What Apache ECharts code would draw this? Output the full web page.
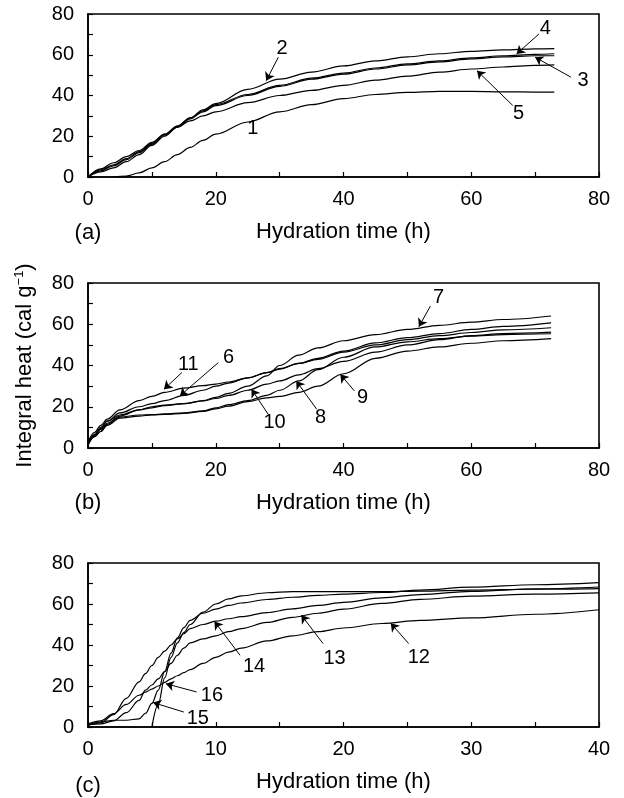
<!DOCTYPE html>
<html>
<head>
<meta charset="utf-8">
<title>Integral heat vs hydration time</title>
<script src="https://cdn.jsdelivr.net/npm/echarts@6/dist/echarts.min.js"></script>
<style>
  html, body { margin: 0; padding: 0; background: #fff; }
  #chart { width: 624px; height: 798px; }
</style>
</head>
<body>
<div id="chart"></div>
<script>
// panel (a): curves 1-5
const timeA = [0, 2, 4, 6, 8, 10, 12, 14, 16, 18, 20, 25, 30, 35, 40, 45, 50, 55, 60, 65, 70, 73];
const heat1 = [null, null, 0, 0.5, 2, 4.5, 7.5, 11, 14.5, 18, 21, 27, 32, 35.5, 38.5, 40.5, 41.5, 42, 42, 41.8, 41.7, 41.7];
const heat2 = [0, 4, 7, 10, 13, 17, 21, 25, 29, 33, 36, 43, 48, 51.5, 54.5, 57, 59, 60.5, 61.7, 62.4, 62.9, 63];
const heat3 = [0, 2.5, 4.5, 7.5, 11, 15.5, 20, 24.5, 28.5, 32, 35, 40, 44.5, 48, 50.5, 53, 55, 56.5, 58, 59, 59.5, 59.5];
const heat4 = [0, 3.5, 6, 9, 12.5, 16.5, 21, 25, 29, 32.5, 35.5, 40.5, 45, 48.5, 51, 53.5, 55.5, 57, 58.5, 59.5, 60.2, 60.5];
const heat5 = [0, 3, 5.5, 8.5, 12, 16, 20.5, 24.5, 27.5, 30, 32, 36.5, 40, 42.5, 45, 47.5, 49.5, 51.5, 53, 54, 54.8, 55];

// panel (b): curves 6-11
const timeB = [0, 1, 2, 3, 5, 8, 10, 12, 15, 18, 20, 22, 25, 28, 30, 33, 36, 40, 45, 50, 55, 60, 65, 72.5];
const heat6 = [2.5, 6, 9.5, 13, 17, 20, 21.5, 23, 25.5, 28, 30, 31.5, 34, 36.5, 38.5, 41, 43, 46.5, 50, 52.5, 54.5, 56, 57.3, 58.3];
const heat7 = [2.5, 6.5, 10, 13, 16, 18.5, 19.5, 20.5, 21.5, 23, 24.5, 26.5, 30, 35, 40, 45, 48.5, 52, 55, 57.5, 59.5, 61, 62.3, 64];
const heat8 = [1.5, 5.5, 8, 11.5, 15, 16, 16.2, 16.5, 17, 18, 19.5, 21, 23, 25.5, 28, 32.5, 38, 44, 49, 51.5, 53, 54.2, 55, 55.4];
const heat9 = [1.5, 5.5, 8, 11, 14.5, 15.5, 16, 16.3, 16.8, 17.8, 19, 20.3, 22.5, 24.3, 25, 27, 30, 36, 43.5, 47, 49, 50.8, 52, 53];
const heat10 = [2, 6, 9, 12, 15.5, 18.5, 20, 20.8, 21.5, 22.8, 24, 25.5, 28, 31, 32.5, 35.5, 38.5, 42, 46.5, 50, 52.5, 54.5, 55.5, 56.2];
const heat11 = [3, 7.5, 11, 14, 18.5, 23, 25, 27, 29, 30.2, 31, 32, 34, 36.5, 38.2, 41, 43.5, 47, 51, 53.5, 55.5, 57.5, 59, 60.7];

// panel (c): curves 12-16
const timeC = [0, 1, 2, 3, 4, 4.5, 5, 5.5, 6, 6.5, 7, 7.5, 8, 9, 10, 11, 12, 14, 16, 18, 20, 23, 26, 30, 35, 40];
const heat12 = [1.5, 3, 6.5, 11, 15.5, 17, 18.5, 20, 21.8, 23.5, 25, 26.5, 28, 31, 34, 36.5, 38.5, 42, 44.5, 46.5, 48.3, 50.5, 52, 53.2, 55, 57.2];
const heat13 = [1, 1.5, 3, 7, 13, 18, 20.5, 23.5, 27, 31, 35, 38.5, 41, 43, 44.5, 46.5, 48, 51, 53.5, 55.5, 57.5, 60.3, 62.3, 63.8, 64.8, 65.4];
const heat14 = [1, 2, 6, 14, 22, 26, 30, 34, 37, 40, 43, 45.5, 48, 50, 51.6, 52.8, 53.8, 55.8, 57.6, 59.3, 60.8, 63, 64.6, 66.2, 67.4, 68.3];
const heat15 = [0.8, 2.5, 3.3, 3.3, 4, 6.6, 11.5, 18, 27, 36, 43.5, 48.5, 52, 55.5, 57.5, 59.3, 60.5, 62.2, 63.3, 64.2, 64.8, 65.6, 66.8, 68.2, 69.4, 70.4];
const heat16 = [null, null, null, null, null, null, 0, 11, 24, 34, 41, 46, 50, 56, 60, 62.5, 64, 65.5, 66, 66, 66, 66, 66.3, 66.8, 67.2, 67.5];

// curve numbers and their arrows, in data units
const notesA = [
  { text: '1', at: [25.8, 24] },
  { text: '2', at: [30.4, 63], from: [29.8, 58.8], to: [27.9, 47.3] },
  { text: '4', at: [71.6, 72.7], from: [70.6, 70.2], to: [67.1, 60.4] },
  { text: '3', at: [77.5, 47.3], from: [75.6, 49], to: [70, 58.8] },
  { text: '5', at: [67.4, 31], from: [66.5, 35.1], to: [60.9, 52.2] }
];
const notesB = [
  { text: '7', at: [54.9, 72.8], from: [53.6, 68.8], to: [51.8, 58.8] },
  { text: '11', at: [15.7, 40.6], from: [14.7, 36.6], to: [11.9, 28.5] },
  { text: '6', at: [22, 43.8], from: [20.4, 41.4], to: [14.4, 25.3] },
  { text: '10', at: [29.2, 12.4], from: [28.2, 16.4], to: [25.6, 28.5] },
  { text: '8', at: [36.4, 14.8], from: [35.8, 18.8], to: [32.6, 32.5] },
  { text: '9', at: [43, 24.5], from: [41.7, 27.7], to: [39.5, 35.7] }
];
const notesC = [
  { text: '14', at: [13, 29.3], from: [11.9, 35], to: [9.9, 51.5] },
  { text: '13', at: [19.3, 33.3], from: [18.4, 40.7], to: [16.7, 54.6] },
  { text: '12', at: [25.9, 34.1], from: [25.1, 40.7], to: [23.7, 50.6] },
  { text: '16', at: [9.7, 15.4], from: [8.5, 17.1], to: [6.1, 21.1] },
  { text: '15', at: [8.6, 4.1], from: [7.5, 7.3], to: [5.1, 11.9] }
];

const FONT = 'Liberation Sans, Arial, sans-serif';

function curve(name, times, heat, g, notes) {
  const s = {
    name: name,
    type: 'line',
    xAxisIndex: g,
    yAxisIndex: g,
    data: times.map((t, i) => [t, heat[i]]),
    showSymbol: false,
    smooth: 0.35,
    smoothMonotone: 'x',
    silent: true,
    lineStyle: { color: '#000', width: 1.2 }
  };
  if (notes) {
    s.markPoint = {
      silent: true,
      symbol: 'rect',
      symbolSize: 1,
      itemStyle: { color: 'rgba(0,0,0,0)' },
      label: { show: true, position: 'inside', color: '#000', fontSize: 20, fontFamily: FONT, formatter: p => p.name },
      data: notes.map(n => ({ name: n.text, coord: n.at }))
    };
    s.markLine = {
      silent: true,
      symbol: ['none', 'arrow'],
      symbolSize: 8,
      label: { show: false },
      lineStyle: { color: '#000', width: 1, type: 'solid' },
      data: notes.filter(n => n.from).map(n => [{ coord: n.from }, { coord: n.to }])
    };
  }
  return s;
}

const grids = [
  { left: 88, right: 25, top: 14, height: 163 },
  { left: 88, right: 25, top: 283, height: 165 },
  { left: 88, right: 25, top: 563, height: 164 }
].map(g => Object.assign(g, { show: true, borderColor: '#000', borderWidth: 1.6, backgroundColor: 'transparent' }));

const xMax = [80, 80, 40];
const xStep = [10, 10, 5];

const xAxes = [0, 1, 2].map(i => ({
  type: 'value',
  gridIndex: i,
  min: 0,
  max: xMax[i],
  interval: xStep[i],
  name: 'Hydration time (h)',
  nameLocation: 'middle',
  nameGap: 44,
  nameTextStyle: { color: '#000', fontSize: 22, fontFamily: FONT },
  axisLine: { show: true, onZero: false, lineStyle: { color: '#000', width: 1.6 } },
  axisTick: { show: true, inside: true, length: 5, lineStyle: { color: '#000', width: 1.2 } },
  splitLine: { show: false },
  axisLabel: {
    color: '#000', fontSize: 20, fontFamily: FONT, margin: 12,
    formatter: v => (v % (2 * xStep[i]) === 0 ? String(v) : '')
  }
}));

const yAxes = [0, 1, 2].map(i => ({
  type: 'value',
  gridIndex: i,
  min: 0,
  max: 80,
  interval: 10,
  axisLine: { show: true, onZero: false, lineStyle: { color: '#000', width: 1.6 } },
  axisTick: { show: true, inside: true, length: 5, lineStyle: { color: '#000', width: 1.2 } },
  splitLine: { show: false },
  axisLabel: {
    color: '#000', fontSize: 20, fontFamily: FONT, margin: 14,
    formatter: v => (v % 20 === 0 ? String(v) : '')
  }
}));
yAxes[1].name = 'Integral heat (cal g{sup|\u22121})';
yAxes[1].nameLocation = 'middle';
yAxes[1].nameGap = 52;
yAxes[1].nameTextStyle = {
  color: '#000', fontSize: 22, fontFamily: FONT,
  rich: { sup: { fontSize: 13, fontFamily: FONT, color: '#000', verticalAlign: 'top', padding: [0, 0, 10, 0] } }
};

const chart = echarts.init(document.getElementById('chart'), null, { renderer: 'canvas' });
chart.setOption({
  animation: false,
  backgroundColor: '#fff',
  grid: grids,
  xAxis: xAxes,
  yAxis: yAxes,
  graphic: [
    { type: 'text', x: 88, y: 233, style: { text: '(a)', font: '22px ' + FONT, fill: '#000', align: 'center', verticalAlign: 'middle' } },
    { type: 'text', x: 88, y: 503, style: { text: '(b)', font: '22px ' + FONT, fill: '#000', align: 'center', verticalAlign: 'middle' } },
    { type: 'text', x: 88, y: 786, style: { text: '(c)', font: '22px ' + FONT, fill: '#000', align: 'center', verticalAlign: 'middle' } }
  ],
  series: [
    curve('1', timeA, heat1, 0, notesA),
    curve('2', timeA, heat2, 0),
    curve('3', timeA, heat3, 0),
    curve('4', timeA, heat4, 0),
    curve('5', timeA, heat5, 0),
    curve('6', timeB, heat6, 1, notesB),
    curve('7', timeB, heat7, 1),
    curve('8', timeB, heat8, 1),
    curve('9', timeB, heat9, 1),
    curve('10', timeB, heat10, 1),
    curve('11', timeB, heat11, 1),
    curve('12', timeC, heat12, 2, notesC),
    curve('13', timeC, heat13, 2),
    curve('14', timeC, heat14, 2),
    curve('15', timeC, heat15, 2),
    curve('16', timeC, heat16, 2)
  ]
});
</script>
</body>
</html>
